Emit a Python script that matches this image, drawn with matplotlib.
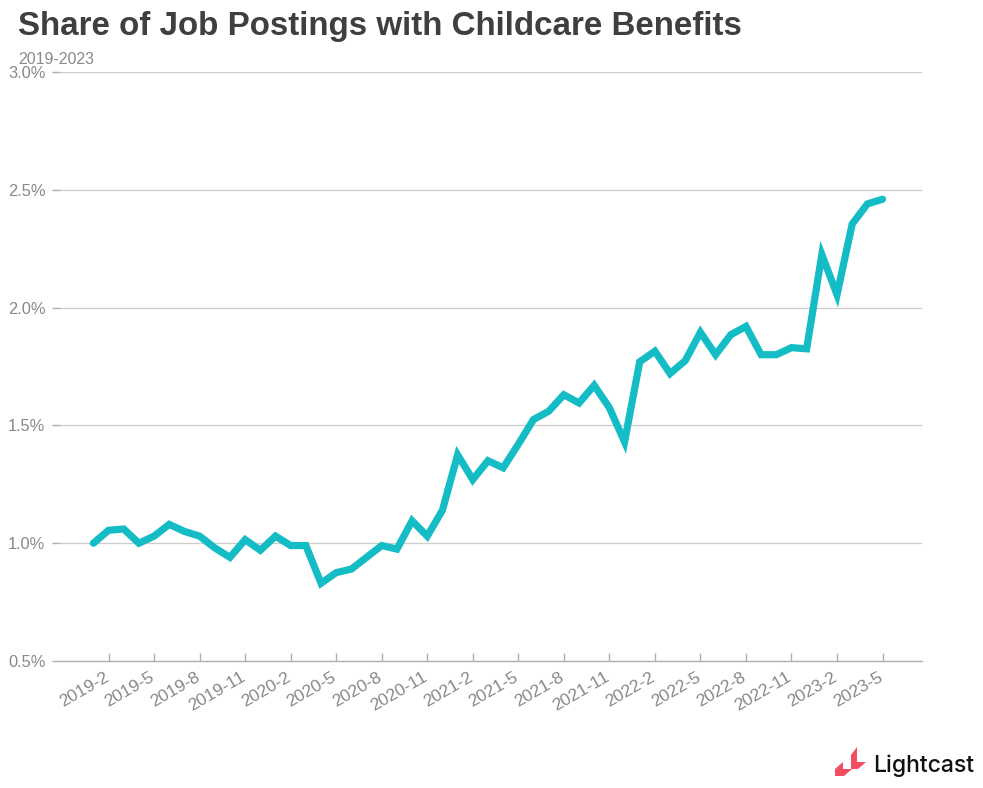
import matplotlib
matplotlib.use("Agg")
import matplotlib.pyplot as plt
from matplotlib.patches import Polygon
from matplotlib.transforms import ScaledTranslation
import numpy as np

plt.rcParams['font.family'] = ['Liberation Sans', 'DejaVu Sans']

months = [f"{y}-{m}" for y in range(2019, 2024) for m in range(1, 13)][:53]
share = [1.00, 1.055, 1.06, 1.00, 1.03, 1.08, 1.05, 1.03, 0.98, 0.94,
         1.015, 0.97, 1.03, 0.99, 0.99, 0.83, 0.875, 0.89, 0.94, 0.99,
         0.975, 1.095, 1.03, 1.14, 1.375, 1.27, 1.35, 1.32, 1.42, 1.525,
         1.56, 1.63, 1.595, 1.67, 1.575, 1.43, 1.77, 1.815, 1.72, 1.775,
         1.895, 1.80, 1.885, 1.92, 1.80, 1.80, 1.83, 1.825, 2.225, 2.055,
         2.355, 2.44, 2.46]
yticks = [0.5, 1.0, 1.5, 2.0, 2.5, 3.0]
title = "Share of Job Postings with Childcare Benefits"
subtitle = "2019-2023"

W, H = 983, 788
fig = plt.figure(figsize=(W/100, H/100), dpi=100)
ax = fig.add_axes([60/W, 1-661/H, (922-60)/W, (661-72)/H])

x = np.arange(len(months))
ax.plot(x, share, color='#14bcc6', lw=5.2, solid_joinstyle='miter', solid_capstyle='round', zorder=3)

ax.set_ylim(0.5, 3.0)
ax.set_xlim(-2.2, 54.6)
ax.set_yticks(yticks)
ax.set_yticklabels([f"{v:.1f}%" for v in yticks])
tick_idx = list(range(1, 53, 3))
ax.set_xticks(tick_idx)
ax.set_xticklabels([months[i] for i in tick_idx], rotation=30, ha='right', rotation_mode='anchor')

for s in ['top', 'right', 'left']:
    ax.spines[s].set_visible(False)
ax.spines['bottom'].set_color('#b0b0b0')
ax.spines['bottom'].set_linewidth(1)
ax.grid(axis='y', color='#cccccc', lw=0.9)
ax.set_axisbelow(True)
ax.tick_params(axis='y', colors='#b0b0b0', labelcolor='#888888', labelsize=11.8, length=6, pad=4.5, width=1)
ax.tick_params(axis='x', direction='in', colors='#b0b0b0', labelcolor='#888888', labelsize=12.5, length=6, pad=6, width=1)

off = ScaledTranslation(-5/100, 0, fig.dpi_scale_trans)
for lbl in ax.get_xticklabels():
    lbl.set_transform(lbl.get_transform() + off)

fig.text(18/W, 1-35/H, title, fontsize=23.9, fontweight='bold', color='#3f3f3f', ha='left', va='baseline')
fig.text(18/W, 1-64/H, subtitle, fontsize=11.5, color='#8a8a8a', ha='left', va='baseline')

# Logo
def fpoly(pts, color):
    p = Polygon([(px/W, 1-py/H) for px, py in pts], closed=True, transform=fig.transFigure,
                facecolor=color, edgecolor='none')
    fig.patches.append(p)

pink = '#f24d63'
fpoly([(835, 769), (843, 762), (843, 769), (852, 769), (844, 776), (835, 776)], pink)
fpoly([(851, 755), (857, 747), (857, 762), (866, 762), (858, 769), (851, 769)], pink)
fig.text(873/W, 1-772/H, "Lightcast", fontsize=16.5, color='#111111', ha='left', va='baseline',
         family=['Inter', 'DejaVu Sans'], fontweight='medium')

fig.savefig("out.png", dpi=100)
